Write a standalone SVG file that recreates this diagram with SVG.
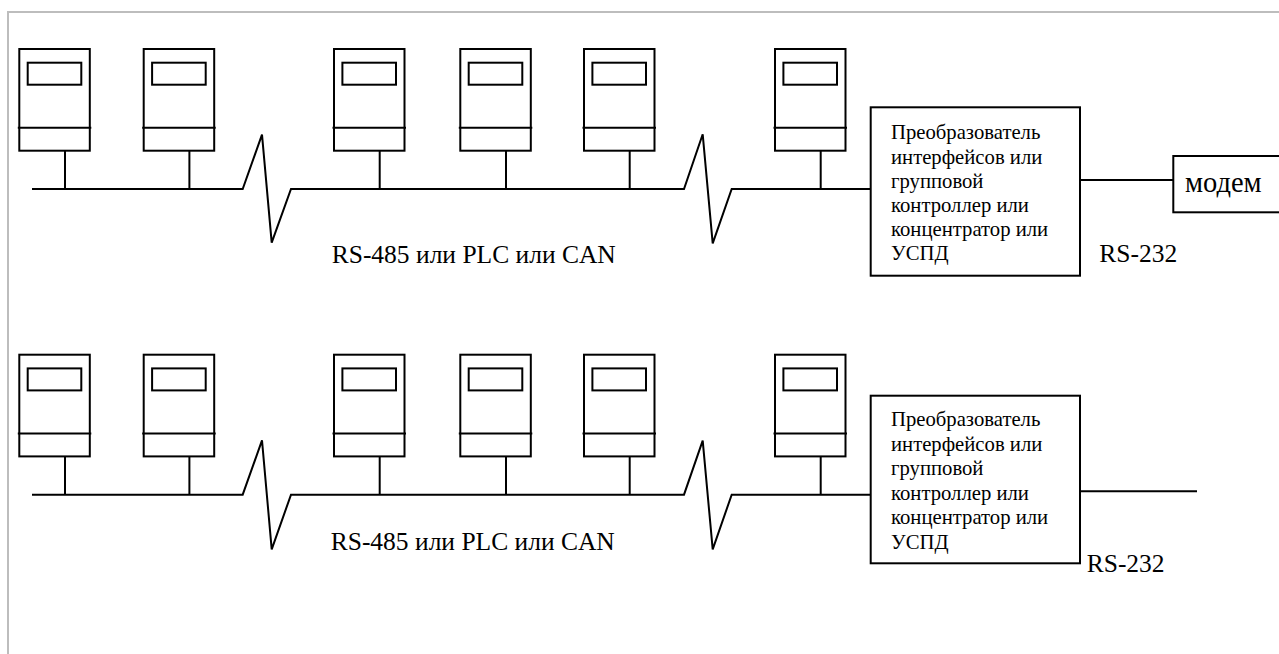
<svg xmlns="http://www.w3.org/2000/svg" width="1279" height="654" viewBox="0 0 1279 654">
<defs>
<style>
.ln{stroke:#000;stroke-width:2;fill:none}
.bx{stroke:#000;stroke-width:2;fill:#fff}
.frame{stroke:#bdbdbd;stroke-width:2;fill:none}
.t{font-family:"Liberation Serif","Times New Roman",serif;fill:#000}
.box-t{font-size:20.7px}
.lbl{font-size:25.5px}
.mod{font-size:28.5px}
</style>
<g id="meter">
<rect x="0" y="0" width="70.5" height="101.7" class="ln"/>
<rect x="8.4" y="13.7" width="53.6" height="22" class="ln"/>
<line x1="-1.5" y1="78.7" x2="72" y2="78.7" class="ln"/>
</g>
</defs>
<rect width="1279" height="654" fill="#fff"/>
<polyline class="frame" points="8,654 8,12 1279,12"/>

<!-- Top row meters -->
<g id="m1"><use href="#meter" x="19.3" y="49"/></g>
<g id="m2"><use href="#meter" x="143.7" y="49"/></g>
<g id="m3"><use href="#meter" x="334" y="49"/></g>
<g id="m4"><use href="#meter" x="460.3" y="49"/></g>
<g id="m5"><use href="#meter" x="584" y="49"/></g>
<g id="m6"><use href="#meter" x="775" y="49"/></g>

<g id="conv1">
<rect x="870.7" y="107.3" width="209.3" height="168.4" class="bx"/>
<text class="t box-t" x="891" y="139.3">Преобразователь</text>
<text class="t box-t" x="891" y="163.5">интерфейсов или</text>
<text class="t box-t" x="891" y="187.7">групповой</text>
<text class="t box-t" x="891" y="211.9">контроллер или</text>
<text class="t box-t" x="891" y="236">концентратор или</text>
<text class="t box-t" x="891" y="260">УСПД</text>
</g>
<g id="modem">
<rect x="1173.3" y="156" width="110" height="56.3" class="bx"/>
<text class="t mod" x="1185" y="191.7">модем</text>
</g>

<!-- Bottom row meters -->
<g id="m7"><use href="#meter" x="19.3" y="354.7"/></g>
<g id="m8"><use href="#meter" x="143.7" y="354.7"/></g>
<g id="m9"><use href="#meter" x="334" y="354.7"/></g>
<g id="m10"><use href="#meter" x="460.3" y="354.7"/></g>
<g id="m11"><use href="#meter" x="584" y="354.7"/></g>
<g id="m12"><use href="#meter" x="775" y="354.7"/></g>

<g id="conv2">
<rect x="870.7" y="395.7" width="209.3" height="167.6" class="bx"/>
<text class="t box-t" x="891" y="426">Преобразователь</text>
<text class="t box-t" x="891" y="450.6">интерфейсов или</text>
<text class="t box-t" x="891" y="475.2">групповой</text>
<text class="t box-t" x="891" y="499.8">контроллер или</text>
<text class="t box-t" x="891" y="524.4">концентратор или</text>
<text class="t box-t" x="891" y="549">УСПД</text>
</g>

<g id="connectors">
<!-- top stems -->
<line class="ln" x1="65" y1="150.7" x2="65" y2="189"/>
<line class="ln" x1="189.4" y1="150.7" x2="189.4" y2="189"/>
<line class="ln" x1="379.7" y1="150.7" x2="379.7" y2="189"/>
<line class="ln" x1="506" y1="150.7" x2="506" y2="189"/>
<line class="ln" x1="629.7" y1="150.7" x2="629.7" y2="189"/>
<line class="ln" x1="820.7" y1="150.7" x2="820.7" y2="189"/>
<!-- top bus with breaks -->
<polyline class="ln" points="32,189 242.7,189 262,134.7 271.7,242.7 291,189 684,189 702.7,134.3 712.7,243.3 731.7,189 870.7,189"/>
<line class="ln" x1="1080" y1="180" x2="1173.3" y2="180"/>
<!-- bottom stems -->
<line class="ln" x1="65" y1="456.4" x2="65" y2="494.7"/>
<line class="ln" x1="189.4" y1="456.4" x2="189.4" y2="494.7"/>
<line class="ln" x1="379.7" y1="456.4" x2="379.7" y2="494.7"/>
<line class="ln" x1="506" y1="456.4" x2="506" y2="494.7"/>
<line class="ln" x1="629.7" y1="456.4" x2="629.7" y2="494.7"/>
<line class="ln" x1="820.7" y1="456.4" x2="820.7" y2="494.7"/>
<polyline class="ln" points="32,494.7 242.7,494.7 262,440.4 271.7,549.3 291,494.7 684,494.7 702.7,440.7 712.7,549.3 731.7,494.7 870.7,494.7"/>
<line class="ln" x1="1080" y1="491.3" x2="1197" y2="491.3"/>
</g>

<g id="labels">
<text class="t lbl" x="331.7" y="263.3">RS-485 или PLC или CAN</text>
<text class="t lbl" x="1099.3" y="262.3">RS-232</text>
<text class="t lbl" x="330.7" y="550">RS-485 или PLC или CAN</text>
<text class="t lbl" x="1086.7" y="571.7">RS-232</text>
</g>
</svg>
